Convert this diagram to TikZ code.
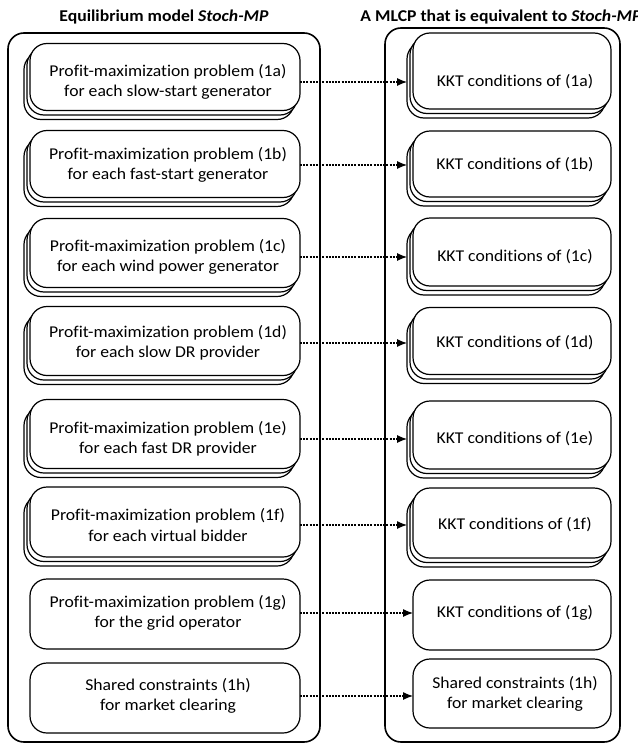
\documentclass[tikz,border=0pt]{standalone}
\usepackage{fontspec}
\setmainfont{Carlito}[FakeStretch=1.07, Ligatures=NoCommon]
\usetikzlibrary{arrows.meta}

\tikzset{
  frame/.style={draw, line width=1.6pt, rounded corners=16pt},
  pbox/.style={draw, fill=white, line width=1.2pt, rounded corners=17pt,
    inner sep=0pt, outer sep=0pt},
  txt/.style={align=center, font=\fontsize{16.5}{20.5}\selectfont, inner sep=0pt},
  ttl/.style={font=\fontsize{16.5}{19}\selectfont\bfseries, inner sep=0pt},
  link/.style={line width=1.1pt, dash pattern=on 2pt off 1.2pt,
    -{Latex[length=10pt,width=8pt]}}
}

% stacked box: name, centre x, centre y, width, height (front box + two copies behind)
\newcommand\stackedbox[5]{%
  \node[pbox, minimum width=#4pt, minimum height=#5pt] (#1-c) at (#2-6,#3+9) {};
  \node[pbox, minimum width=#4pt, minimum height=#5pt] (#1-b) at (#2-3,#3+4.5) {};
  \node[pbox, minimum width=#4pt, minimum height=#5pt] (#1) at (#2,#3) {};
}
% single box: name, centre x, centre y, width, height
\newcommand\singlebox[5]{%
  \node[pbox, minimum width=#4pt, minimum height=#5pt] (#1) at (#2,#3) {};
  \coordinate (#1-c) at (#1.west);
}

\begin{document}
\begin{tikzpicture}[x=1pt, y=-1pt]
\useasboundingbox (0,0) rectangle (637,744);

% column titles
\node[ttl] (tl) at (164,17) {Equilibrium model \textit{Stoch-MP}};
\node[ttl] (tr) at (501,17) {A MLCP that is equivalent to \textit{Stoch-MP}};

% outer frames
\draw[frame] (8,33) rectangle (320,742);
\draw[frame] (385,28) rectangle (620,742);

% left column: profit-maximization problems
\stackedbox{L1a}{165}{77}{270}{67}
\stackedbox{L1b}{165}{164}{270}{67}
\stackedbox{L1c}{165}{253}{270}{69}
\stackedbox{L1d}{165}{341}{270}{69}
\stackedbox{L1e}{165}{434}{270}{69}
\stackedbox{L1f}{165}{522}{270}{70}
\singlebox{L1g}{165}{614}{270}{70}
\singlebox{L1h}{165}{698}{270}{70}

% right column: KKT conditions
\stackedbox{R1a}{512}{71}{198}{76}
\stackedbox{R1b}{512}{164}{198}{66}
\stackedbox{R1c}{512}{252}{198}{68}
\stackedbox{R1d}{512}{341}{198}{67}
\stackedbox{R1e}{512}{435}{198}{68}
\stackedbox{R1f}{512}{523}{198}{70}
\singlebox{R1g}{512}{615}{198}{70}
\singlebox{R1h}{512}{693.5}{198}{69}

% texts
\node[txt] (L1a-t) at (168,82) {Profit-maximization problem (1a)\\for each slow-start generator};
\node[txt] (L1b-t) at (168,165) {Profit-maximization problem (1b)\\for each fast-start generator};
\node[txt] (L1c-t) at (168,257) {Profit-maximization problem (1c)\\for each wind power generator};
\node[txt] (L1d-t) at (168,343) {Profit-maximization problem (1d)\\for each slow DR provider};
\node[txt] (L1e-t) at (168,439) {Profit-maximization problem (1e)\\for each fast DR provider};
\node[txt] (L1f-t) at (168,525) {Profit-maximization problem (1f)\\for each virtual bidder};
\node[txt] (L1g-t) at (168,613) {Profit-maximization problem (1g)\\for the grid operator};
\node[txt] (L1h-t) at (168,696) {Shared constraints (1h)\\for market clearing};

\node[txt] (R1a-t) at (515,82) {KKT conditions of (1a)};
\node[txt] (R1b-t) at (515,165) {KKT conditions of (1b)};
\node[txt] (R1c-t) at (515,257) {KKT conditions of (1c)};
\node[txt] (R1d-t) at (515,343) {KKT conditions of (1d)};
\node[txt] (R1e-t) at (515,439) {KKT conditions of (1e)};
\node[txt] (R1f-t) at (515,525) {KKT conditions of (1f)};
\node[txt] (R1g-t) at (515,613) {KKT conditions of (1g)};
\node[txt] (R1h-t) at (515,694) {Shared constraints (1h)\\for market clearing};

% connectors
\foreach \r in {1a,1b,1c,1d,1e,1f,1g,1h}
  \draw[link] (L\r.east |- L\r-t) -- (R\r-c.west |- L\r-t);
\end{tikzpicture}
\end{document}
